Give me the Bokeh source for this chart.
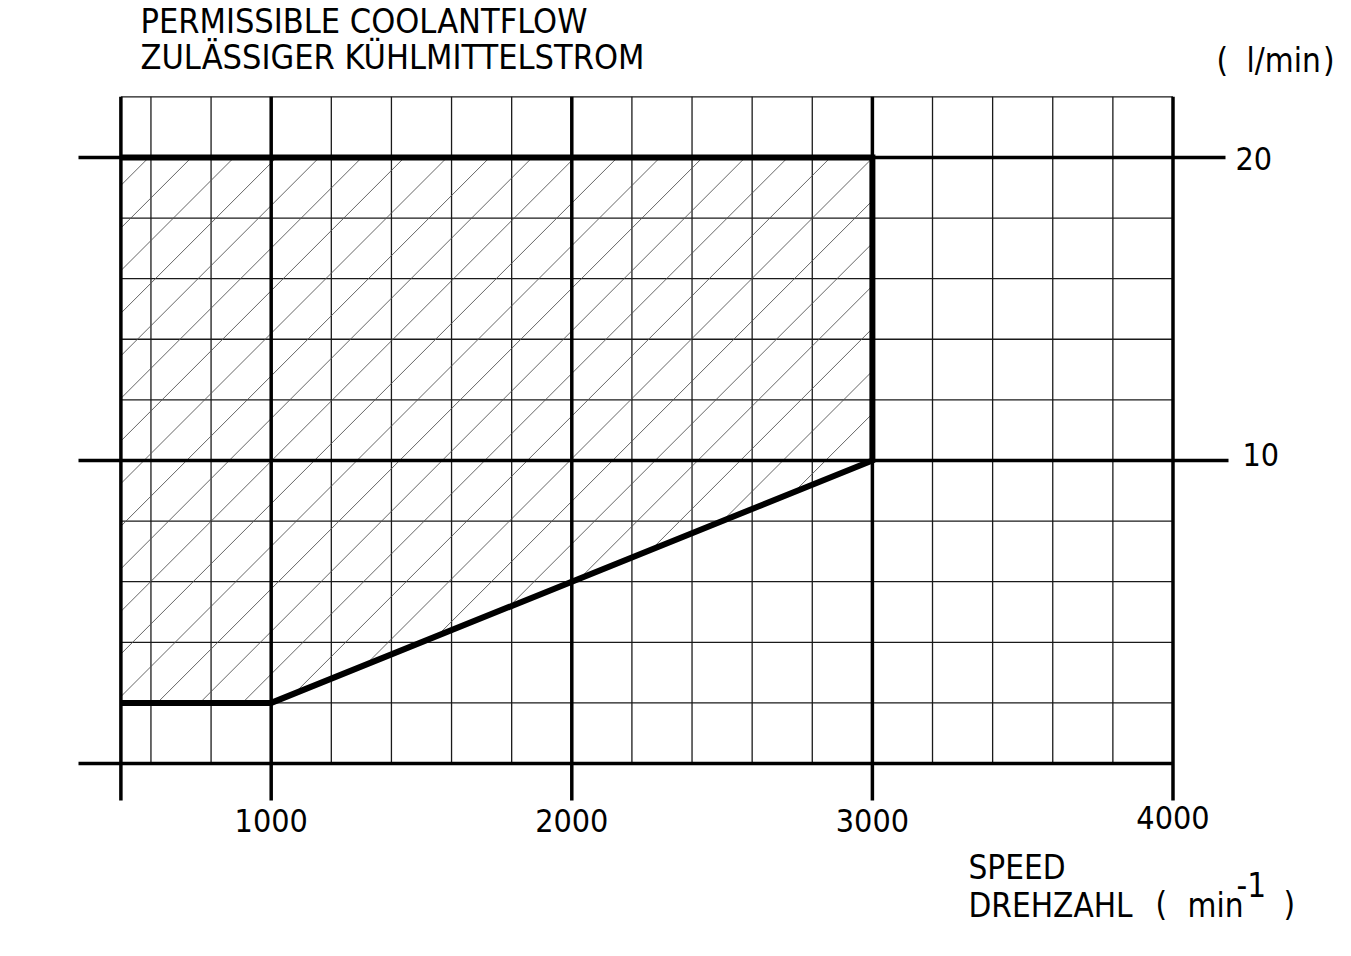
import numpy as np
from bokeh.plotting import figure
from bokeh.models import Range1d
from bokeh.core.properties import value
from bokeh.embed import file_html
from bokeh.resources import INLINE

# ---------------- data ----------------
speed_ticks = [1000, 2000, 3000, 4000]
speed_labels = ["1000", "2000", "3000", "4000"]
flow_ticks = [10, 20]
flow_labels = ["10", "20"]
major_speed = [500, 1000, 2000, 3000, 4000]
major_flow = [0, 10, 20]
minor_speed = [600, 800, 1200, 1400, 1600, 1800, 2200, 2400, 2600, 2800,
               3200, 3400, 3600, 3800]
minor_flow = [2, 4, 6, 8, 12, 14, 16, 18, 22]
region_speed = [500, 1000, 3000, 3000, 500]
region_flow = [2, 2, 10, 20, 20]
speed_lo, speed_hi = 500, 4000
flow_lo, flow_hi = 0, 22

# ---------------- layout ----------------
W, H = 1335, 940
X0, X1 = 99.5, 4540.6
Y0, Y1 = -5.842, 25.18
FONT = value("DejaVu Sans Condensed, Roboto")
DY = -13  # text baseline correction in pixels


def px_x(px):
    return X0 + px / W * (X1 - X0)


def px_y(py):
    return Y1 - py / H * (Y1 - Y0)


def tpy(py):
    return px_y(py + DY)


def to_px(v, f):
    return ((v - X0) / (X1 - X0) * W, (Y1 - f) / (Y1 - Y0) * H)


p = figure(width=W, height=H, output_backend="svg", toolbar_location=None,
           x_range=Range1d(X0, X1), y_range=Range1d(Y0, Y1),
           min_border=0, min_border_left=0, min_border_right=0,
           min_border_top=0, min_border_bottom=0)
p.axis.visible = False
p.grid.visible = False
p.outline_line_color = None
p.background_fill_color = "white"
p.border_fill_color = "white"

# minor grid
p.segment(x0=minor_speed, y0=[flow_lo] * len(minor_speed),
          x1=minor_speed, y1=[flow_hi] * len(minor_speed),
          line_color="#1a1a1a", line_width=1.3)
p.segment(x0=[speed_lo] * len(minor_flow), y0=minor_flow,
          x1=[speed_hi] * len(minor_flow), y1=minor_flow,
          line_color="#1a1a1a", line_width=1.3)

# hatching of the permissible region (45 deg lines clipped to the region)
poly = [to_px(v, f) for v, f in zip(region_speed, region_flow)]
sums = [a + b for a, b in poly]
spacing, phase = 42.6, 305.3
k0 = int(np.floor((min(sums) - phase) / spacing))
k1 = int(np.ceil((max(sums) - phase) / spacing))
hx0, hy0, hx1, hy1 = [], [], [], []
for k in range(k0, k1 + 1):
    c = phase + k * spacing
    pts = []
    n = len(poly)
    for i in range(n):
        (xa, ya), (xb, yb) = poly[i], poly[(i + 1) % n]
        fa, fb = xa + ya - c, xb + yb - c
        if fa == 0:
            pts.append((xa, ya))
        elif fa * fb < 0:
            t = fa / (fa - fb)
            pts.append((xa + t * (xb - xa), ya + t * (yb - ya)))
    if len(pts) >= 2:
        pts.sort()
        (ax, ay), (bx, by) = pts[0], pts[-1]
        hx0.append(px_x(ax)); hy0.append(px_y(ay))
        hx1.append(px_x(bx)); hy1.append(px_y(by))
p.segment(x0=hx0, y0=hy0, x1=hx1, y1=hy1, line_color="#555555",
          line_width=0.9)

# major lines
ext_left = px_x(78)
right_ends = {0: speed_hi, 10: px_x(1228), 20: px_x(1225)}
p.segment(x0=[ext_left] * len(major_flow), y0=major_flow,
          x1=[right_ends[f] for f in major_flow], y1=major_flow,
          line_color="black", line_width=3.5)
tick_bottom = px_y(800)
p.segment(x0=major_speed, y0=[tick_bottom] * len(major_speed),
          x1=major_speed, y1=[flow_hi] * len(major_speed),
          line_color="black", line_width=3.5)

# region outline
p.line(x=region_speed, y=region_flow, line_color="black", line_width=6,
       line_join="miter")

# x tick labels
p.text(x=speed_ticks, y=[tpy(833), tpy(833), tpy(833), tpy(830)],
       text=speed_labels, text_font=FONT, text_font_size="32px",
       text_align="center", text_baseline="alphabetic", text_color="black")

# y tick labels
p.text(x=[px_x(1242), px_x(1235)], y=[tpy(467), tpy(171)],
       text=flow_labels, text_font=FONT, text_font_size="32px",
       text_align="left", text_baseline="alphabetic", text_color="black")

# titles
p.text(x=[px_x(140), px_x(140)], y=[tpy(33), tpy(69)],
       text=["PERMISSIBLE COOLANTFLOW", "ZULÄSSIGER KÜHLMITTELSTROM"],
       text_font=FONT, text_font_size="34px", text_align="left",
       text_baseline="alphabetic", text_color="black")

# unit labels
txt = ["(", "l/min", "SPEED", "DREHZAHL", "(", "min", "-1", ")"]
tx = [1216, 1246, 968, 968, 1155, 1187, 1236, 1283]
ty = [73, 73, 880, 918, 917, 918, 897, 917]
p.text(x=[px_x(v) for v in tx], y=[tpy(v) for v in ty], text=txt,
       text_font=FONT, text_font_size="33px", text_align="left",
       text_baseline="alphabetic", text_color="black")
p.text(x=[px_x(1334)], y=[tpy(73)], text=[")"], text_font=FONT,
       text_font_size="33px", text_align="right",
       text_baseline="alphabetic", text_color="black")

open("out.html", "w").write(file_html(p, INLINE))
